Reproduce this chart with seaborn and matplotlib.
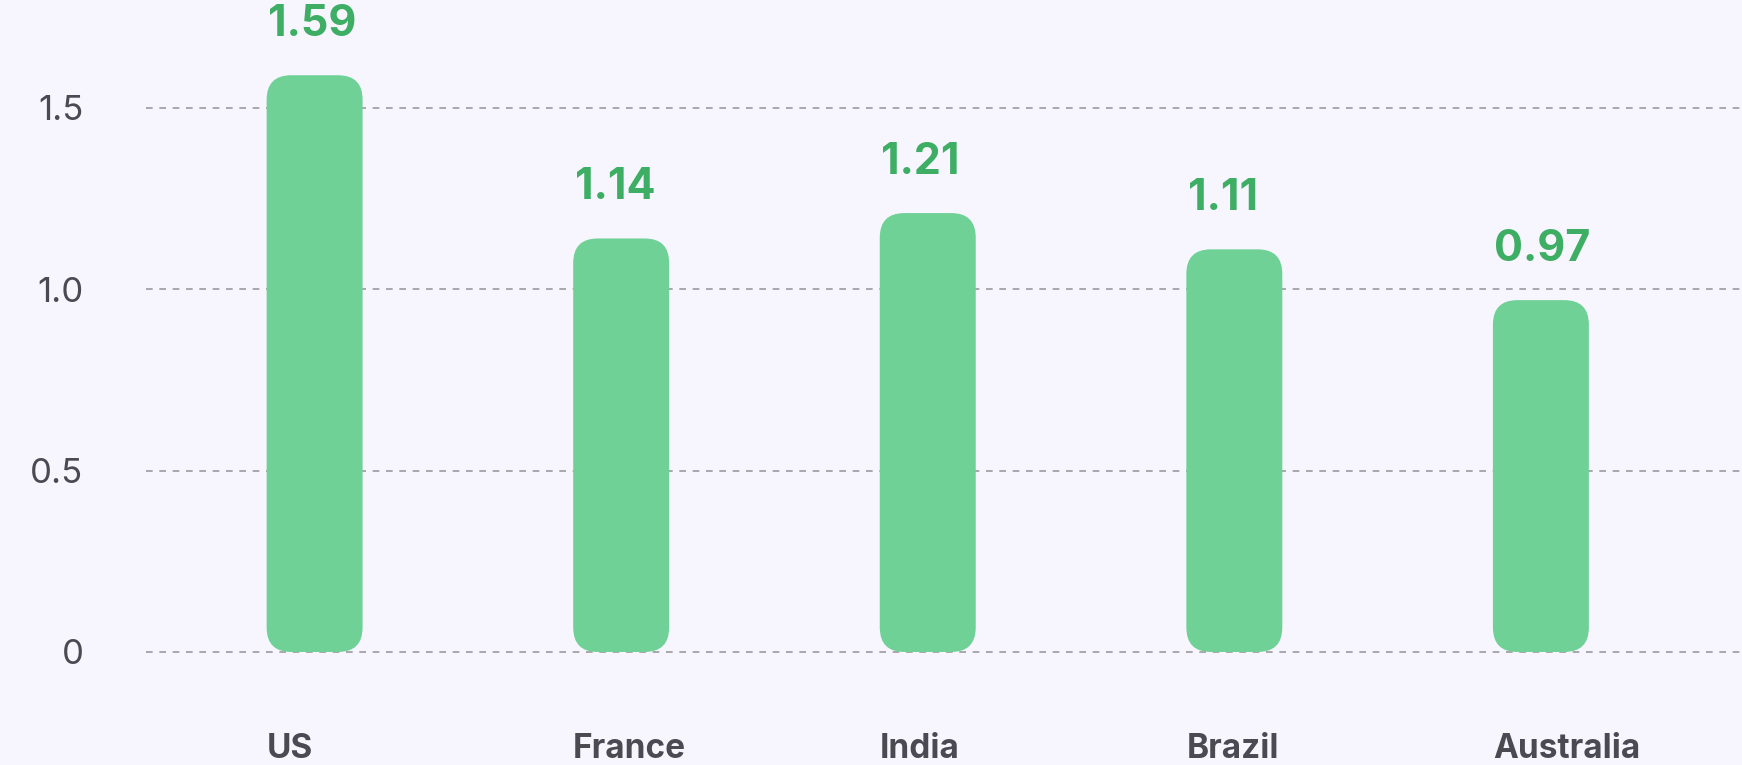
import matplotlib
matplotlib.use("Agg")
import matplotlib.pyplot as plt
from matplotlib.patches import FancyBboxPatch
import seaborn as sns
import pandas as pd

# Data
countries = ["US", "France", "India", "Brazil", "Australia"]
values = [1.59, 1.14, 1.21, 1.11, 0.97]
y_ticks = [0, 0.5, 1.0, 1.5]
y_tick_labels = ["0", "0.5", "1.0", "1.5"]

bg = "#F7F6FE"
bar_color = "#6FD196"
label_green = "#3DAE63"
text_dark = "#4A4A50"
bar_w = 0.313

sns.set_theme(style="white")
plt.rcParams["font.family"] = ["Inter", "DejaVu Sans"]

df = pd.DataFrame({"country": countries, "value": values})

fig = plt.figure(figsize=(17.42, 7.65), dpi=100, facecolor=bg)
ax = fig.add_axes([146 / 1742, 65 / 765, 1 - 146 / 1742, 640 / 765])
ax.set_facecolor(bg)

sns.barplot(data=df, x="country", y="value", color=bar_color, width=bar_w,
            saturation=1, ax=ax, zorder=3)

# swap plain bars for rounded ones
bar_lefts = []
for p in list(ax.patches):
    x, y0 = p.get_x(), p.get_y()
    w, h = p.get_width(), p.get_height()
    bar_lefts.append(x)
    rb = FancyBboxPatch((x, y0), w, h,
                        boxstyle="round,pad=0,rounding_size=0.08",
                        mutation_aspect=0.846,
                        facecolor=bar_color, edgecolor="none", zorder=3)
    p.remove()
    ax.add_patch(rb)

# value labels, left-aligned with the bar edge
for left, v in zip(bar_lefts, values):
    ax.annotate(f"{v:.2f}", (left, v), xytext=(1, 22), textcoords="offset points",
                ha="left", va="bottom", fontsize=31, fontweight="bold",
                color=label_green, annotation_clip=False)

ax.set_xlim(-0.55, 4.656)
ax.set_ylim(-0.1324, 1.632)
ax.set_yticks(y_ticks)
ax.set_yticklabels(y_tick_labels)
ax.yaxis.grid(True, linestyle=(0, (4, 4)), color="#9A9A9E", linewidth=1.2, zorder=0)
ax.xaxis.grid(False)

# category labels also start at the bar's left edge
ax.set_xticks(bar_lefts)
ax.set_xticklabels(countries, ha="left", fontweight="bold")

ax.tick_params(axis="y", length=0, pad=45, labelsize=25, labelcolor=text_dark)
ax.tick_params(axis="x", length=0, pad=24, labelsize=24, labelcolor=text_dark)

ax.set_xlabel("")
ax.set_ylabel("")
sns.despine(ax=ax, left=True, bottom=True)

fig.savefig("out.png", dpi=100, facecolor=bg)
